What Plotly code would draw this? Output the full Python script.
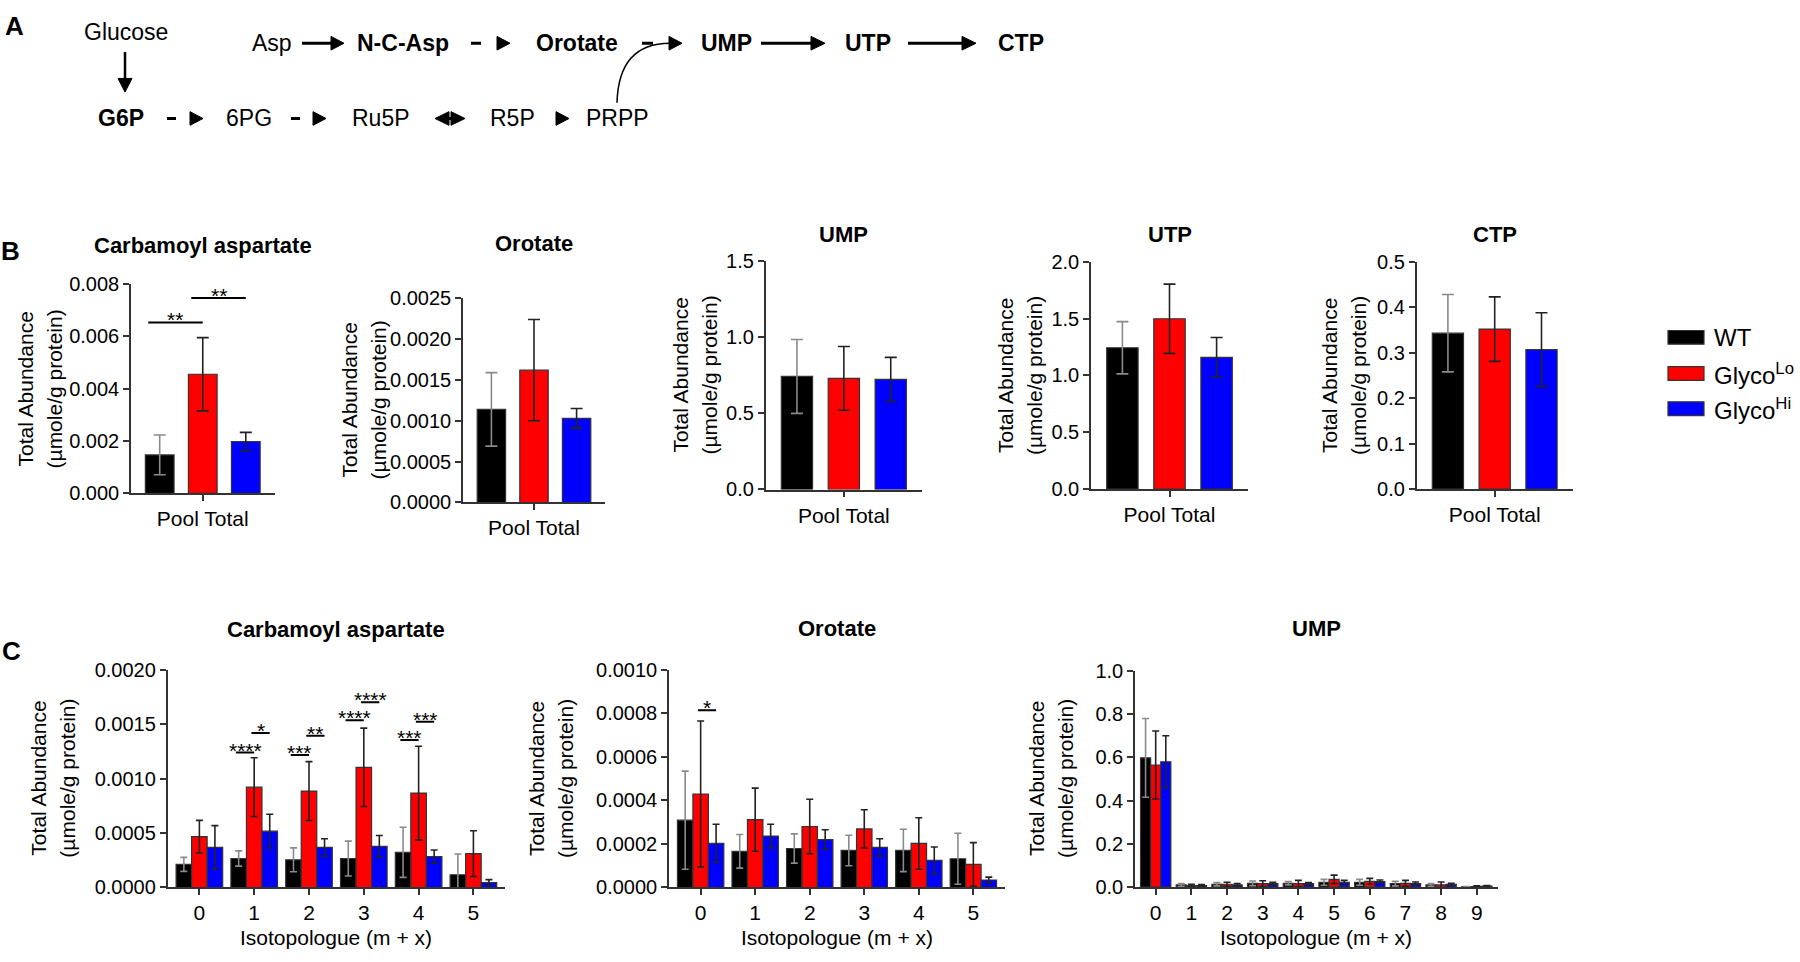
import plotly.graph_objects as go

W, H = 1800, 962
def px(x): return x / W
def py(y): return 1 - y / H

FONT = "Liberation Sans, Arial, sans-serif"

# ---------------- data ----------------
genotypes = ["WT", "GlycoLo", "GlycoHi"]
legend_labels = ["WT", "Glyco<sup>Lo</sup>", "Glyco<sup>Hi</sup>"]
bar_colors = ["#000000", "#ff0000", "#0000ff"]
err_colors = ["#8a8a8a", "#222222", "#222222"]

pool_label = ["Pool Total"]
iso6 = ["0", "1", "2", "3", "4", "5"]
iso10 = ["0", "1", "2", "3", "4", "5", "6", "7", "8", "9"]

# Panel B: pool totals [WT, GlycoLo, GlycoHi]
cpa_pool_mean = [0.00147, 0.00455, 0.00198]
cpa_pool_err = [0.00076, 0.00140, 0.00035]
oro_pool_mean = [0.00114, 0.00162, 0.00103]
oro_pool_err = [0.00045, 0.00062, 0.00012]
ump_pool_mean = [0.744, 0.731, 0.724]
ump_pool_err = [0.243, 0.210, 0.145]
utp_pool_mean = [1.244, 1.499, 1.160]
utp_pool_err = [0.230, 0.305, 0.174]
ctp_pool_mean = [0.343, 0.352, 0.307]
ctp_pool_err = [0.085, 0.071, 0.081]

# Panel C: isotopologues
cpa_iso_wt = [0.000212, 0.000266, 0.000254, 0.000266, 0.000323, 0.000117]
cpa_iso_wt_err = [0.000064, 0.000070, 0.000110, 0.000160, 0.000230, 0.000190]
cpa_iso_lo = [0.000466, 0.000921, 0.000885, 0.001103, 0.000867, 0.000311]
cpa_iso_lo_err = [0.000150, 0.000270, 0.000270, 0.000360, 0.000430, 0.000210]
cpa_iso_hi = [0.000368, 0.000517, 0.000368, 0.000377, 0.000284, 0.0000448]
cpa_iso_hi_err = [0.000200, 0.000155, 0.000080, 0.000100, 0.000060, 0.000027]

oro_iso_wt = [0.000309, 0.000166, 0.000179, 0.000170, 0.000170, 0.000132]
oro_iso_wt_err = [0.000225, 0.000077, 0.000067, 0.000070, 0.000097, 0.000117]
oro_iso_lo = [0.000429, 0.000311, 0.000280, 0.000269, 0.000202, 0.000106]
oro_iso_lo_err = [0.000335, 0.000145, 0.000125, 0.000088, 0.000118, 0.000100]
oro_iso_hi = [0.000203, 0.000236, 0.000220, 0.000184, 0.000124, 0.0000344]
oro_iso_hi_err = [0.000087, 0.000054, 0.000045, 0.000040, 0.000062, 0.000013]

ump_iso_wt = [0.597, 0.0105, 0.0135, 0.018, 0.018, 0.0226, 0.0226, 0.0165, 0.0105, 0.0015]
ump_iso_wt_err = [0.182, 0.006, 0.0075, 0.0106, 0.0075, 0.0134, 0.0134, 0.0105, 0.006, 0.0015]
ump_iso_lo = [0.564, 0.0075, 0.0135, 0.0165, 0.0165, 0.036, 0.027, 0.018, 0.0105, 0.003]
ump_iso_lo_err = [0.157, 0.006, 0.009, 0.0135, 0.015, 0.0196, 0.0136, 0.0136, 0.0135, 0.003]
ump_iso_hi = [0.579, 0.0075, 0.0105, 0.0165, 0.0165, 0.0226, 0.0256, 0.0165, 0.0135, 0.0045]
ump_iso_hi_err = [0.120, 0.0045, 0.006, 0.006, 0.0045, 0.009, 0.0075, 0.0075, 0.0045, 0.003]

# significance: (panel, category index, from group, to group, y value, label)
sig_marks = [
    (1, 0, 0, 1, 0.00653, "**"),
    (1, 0, 1, 2, 0.00746, "**"),
    (6, 1, 0, 1, 0.001238, "****"),
    (6, 1, 1, 2, 0.001417, "*"),
    (6, 2, 0, 1, 0.001217, "***"),
    (6, 2, 1, 2, 0.001393, "**"),
    (6, 3, 0, 1, 0.001534, "****"),
    (6, 3, 1, 2, 0.001700, "****"),
    (6, 4, 0, 1, 0.001354, "***"),
    (6, 4, 1, 2, 0.001522, "***"),
    (7, 0, 1, 2, 0.000813, "*"),
]

ylab1 = "Total Abundance"
ylab2 = "(µmole/g protein)"
xlab_iso = "Isotopologue (m + x)"

# ---------------- panel definitions ----------------
panels = [
    dict(title="Carbamoyl aspartate", cats=pool_label,
         means=cpa_pool_mean, errs=cpa_pool_err, ymax=0.008, dtick=0.002, fmt=".3f"),
    dict(title="Orotate", cats=pool_label,
         means=oro_pool_mean, errs=oro_pool_err, ymax=0.0025, dtick=0.0005, fmt=".4f"),
    dict(title="UMP", cats=pool_label,
         means=ump_pool_mean, errs=ump_pool_err, ymax=1.5, dtick=0.5, fmt=".1f"),
    dict(title="UTP", cats=pool_label,
         means=utp_pool_mean, errs=utp_pool_err, ymax=2.0, dtick=0.5, fmt=".1f"),
    dict(title="CTP", cats=pool_label,
         means=ctp_pool_mean, errs=ctp_pool_err, ymax=0.5, dtick=0.1, fmt=".1f"),
    dict(title="Carbamoyl aspartate", cats=iso6,
         means=[cpa_iso_wt, cpa_iso_lo, cpa_iso_hi],
         errs=[cpa_iso_wt_err, cpa_iso_lo_err, cpa_iso_hi_err],
         ymax=0.002, dtick=0.0005, fmt=".4f"),
    dict(title="Orotate", cats=iso6,
         means=[oro_iso_wt, oro_iso_lo, oro_iso_hi],
         errs=[oro_iso_wt_err, oro_iso_lo_err, oro_iso_hi_err],
         ymax=0.001, dtick=0.0002, fmt=".4f"),
    dict(title="UMP", cats=iso10,
         means=[ump_iso_wt, ump_iso_lo, ump_iso_hi],
         errs=[ump_iso_wt_err, ump_iso_lo_err, ump_iso_hi_err],
         ymax=1.0, dtick=0.2, fmt=".1f"),
]

# layout geometry (pixels): x_left, x_right, y_top, y_bottom, title_y, ylabel_x
geom = [
    (131, 274.5, 279.3, 493.7, 240, 40.3),
    (463, 605, 294, 503, 238, 363.5),
    (765.7, 922, 256.3, 489.7, 229, 694.5),
    (1091, 1248, 256.7, 489.3, 229, 1020),
    (1416.7, 1572.7, 256.7, 489.3, 229, 1344),
    (167.6, 505.2, 674, 897, 633, 52.6),
    (669, 1005, 674, 897, 632, 551),
    (1135, 1497.5, 675, 896.7, 632, 1051.5),
]

fig = go.Figure()
layout = dict(
    width=W, height=H, autosize=False,
    margin=dict(l=0, r=0, t=0, b=0),
    paper_bgcolor="white", plot_bgcolor="white",
    barmode="overlay", showlegend=False,
    font=dict(family=FONT, color="black", size=20),
)
annotations = []
shapes = []

AXC = "#333333"

for i, (pan, g) in enumerate(zip(panels, geom), start=1):
    xl, xr, yt, yb, title_y, ylx = g
    is_pool = len(pan["cats"]) == 1
    n = len(pan["cats"])
    xs = list(range(n))
    if is_pool:
        bw = 0.2
        offs = [-0.4, -0.1, 0.2]
        means = [[m] for m in pan["means"]]
        errs = [[e] for e in pan["errs"]]
        xrange = [-0.5, 0.5]
        cap = 6
    else:
        bw = 0.85 / 3
        offs = [-0.425, -0.425 + bw, -0.425 + 2 * bw]
        means = pan["means"]
        errs = pan["errs"]
        xrange = [-0.58, n - 1 + 0.58]
        cap = 3.5
    xa = "x" if i == 1 else f"x{i}"
    ya = "y" if i == 1 else f"y{i}"
    for gi in range(3):
        fig.add_trace(go.Bar(
            x=xs, y=means[gi], name=genotypes[gi],
            width=bw, offset=offs[gi],
            marker=dict(color=bar_colors[gi], line=dict(color="#333333", width=1.2)),
            error_y=dict(type="data", array=errs[gi], visible=True,
                         color=err_colors[gi], thickness=1.6, width=cap),
            xaxis=xa, yaxis=ya, showlegend=False, hoverinfo="skip",
        ))
    key = "" if i == 1 else str(i)
    layout["xaxis" + key] = dict(
        domain=[px(xl), px(xr)], range=xrange, anchor=ya,
        showline=True, linecolor=AXC, linewidth=1.6,
        ticks="outside", ticklen=6, tickwidth=1.6, tickcolor=AXC,
        tickvals=xs, ticktext=pan["cats"],
        tickfont=dict(family=FONT, size=21, color="black"),
        showgrid=False, zeroline=False, fixedrange=True,
    )
    layout["yaxis" + key] = dict(
        domain=[py(yb), py(yt)], range=[0, pan["ymax"]], anchor=xa,
        showline=True, linecolor=AXC, linewidth=1.6,
        ticks="outside", ticklen=6, tickwidth=1.6, tickcolor=AXC,
        tick0=0, dtick=pan["dtick"], tickformat=pan["fmt"],
        tickfont=dict(family=FONT, size=20, color="black"),
        showgrid=False, zeroline=False, fixedrange=True,
    )
    cx = (xl + xr) / 2
    cy = (yt + yb) / 2
    annotations.append(dict(
        text=pan["title"], x=px(cx), y=py(title_y), xref="paper", yref="paper",
        xanchor="center", yanchor="middle", showarrow=False,
        font=dict(family=FONT, size=22, color="black", weight="bold")))
    for dx, t in ((-14.5, ylab1), (14.5, ylab2)):
        annotations.append(dict(
            text=t, x=px(ylx + dx), y=py(cy), xref="paper", yref="paper",
            xanchor="center", yanchor="middle", showarrow=False, textangle=-90,
            font=dict(family=FONT, size=21, color="black")))
    if not is_pool:
        annotations.append(dict(
            text=xlab_iso, x=px(cx), y=py(948), xref="paper", yref="paper",
            xanchor="center", yanchor="middle", showarrow=False,
            font=dict(family=FONT, size=21, color="black")))

# significance bars
for (p, cat, a, b, yv, lab) in sig_marks:
    pan = panels[p - 1]
    if len(pan["cats"]) == 1:
        centers = [-0.3, 0.0, 0.3]
        ext = 0.08
    else:
        bw = 0.85 / 3
        centers = [-bw, 0.0, bw]
        ext = 0.05
    xa = "x" if p == 1 else f"x{p}"
    ya = "y" if p == 1 else f"y{p}"
    x0 = cat + centers[a] - ext
    x1 = cat + centers[b]
    shapes.append(dict(type="line", xref=xa, yref=ya, x0=x0, x1=x1, y0=yv, y1=yv,
                       line=dict(color="black", width=2)))
    annotations.append(dict(text=lab, x=(x0 + x1) / 2, y=yv, xref=xa, yref=ya,
                            xanchor="center", yanchor="bottom", yshift=-11,
                            showarrow=False, font=dict(family=FONT, size=21, color="black")))

# custom legend
leg_y = [334, 371, 407]
for gi in range(3):
    shapes.append(dict(type="rect", xref="paper", yref="paper",
                       x0=px(1668), x1=px(1704), y0=py(leg_y[gi] + 7), y1=py(leg_y[gi] - 7),
                       fillcolor=bar_colors[gi], line=dict(color="#333333", width=1.2)))
    annotations.append(dict(text=legend_labels[gi], x=px(1712), y=py(leg_y[gi]),
                            xref="paper", yref="paper", xanchor="left", yanchor="middle",
                            showarrow=False, font=dict(family=FONT, size=24, color="black")))

# panel letters
for lab, (lx, ly) in {"A": (14, 15), "B": (10, 246), "C": (11, 655)}.items():
    annotations.append(dict(text=lab, x=px(lx), y=py(ly), xref="paper", yref="paper",
                            xanchor="center", yanchor="middle", showarrow=False,
                            font=dict(family=FONT, size=26, color="black", weight="bold")))

# ---------------- pathway diagram (panel A) ----------------
path_nodes = [
    ("Glucose", 126, 21, False), ("G6P", 121, 110, True), ("6PG", 249, 110, False),
    ("Ru5P", 381, 110, False), ("R5P", 512, 110, False), ("PRPP", 617, 110, False),
    ("Asp", 271.5, 33, False), ("N-C-Asp", 403, 33, True), ("Orotate", 577, 33, True),
    ("UMP", 726, 33, True), ("UTP", 868, 33, True), ("CTP", 1021, 33, True),
]
for (t, x, y, bold) in path_nodes:
    annotations.append(dict(text=t, x=px(x), y=py(y), xref="paper", yref="paper",
                            xanchor="center", yanchor="middle", showarrow=False,
                            font=dict(family=FONT, size=23, color="black",
                                      weight="bold" if bold else "normal")))

def hseg(x0, x1, y, w=3):
    shapes.append(dict(type="line", xref="paper", yref="paper",
                       x0=px(x0), x1=px(x1), y0=py(y), y1=py(y),
                       line=dict(color="black", width=w)))

def hhead(xb, xt, y, hw=7):
    path = f"M {px(xb)},{py(y - hw)} L {px(xt)},{py(y)} L {px(xb)},{py(y + hw)} Z"
    shapes.append(dict(type="path", xref="paper", yref="paper", path=path,
                       fillcolor="black", line=dict(color="black", width=1)))

# top row
hseg(302, 333, 33); hhead(331, 344, 33)
hseg(471, 481, 33); hhead(497, 510, 33)
hseg(642, 653, 33); hhead(669, 682, 33)
hseg(761, 813, 33); hhead(811, 825, 33)
hseg(908, 964, 33); hhead(962, 976, 33)
# bottom row
hseg(167, 176, 110); hhead(190, 203, 110)
hseg(291, 300, 110); hhead(313, 326, 110)
hhead(449, 435, 110); hhead(451, 465, 110); hseg(448, 452, 110)
hhead(556, 569, 110)
# glucose down arrow
shapes.append(dict(type="line", xref="paper", yref="paper",
                   x0=px(125), x1=px(125), y0=py(42), y1=py(71),
                   line=dict(color="black", width=2.5)))
shapes.append(dict(type="path", xref="paper", yref="paper",
                   path=f"M {px(118)},{py(69)} L {px(125)},{py(83)} L {px(132)},{py(69)} Z",
                   fillcolor="black", line=dict(color="black", width=1)))
# PRPP curve into Orotate -> UMP
shapes.append(dict(type="path", xref="paper", yref="paper",
                   path=f"M {px(617)},{py(94)} C {px(618)},{py(55)} {px(635)},{py(33)} {px(670)},{py(33)}",
                   line=dict(color="black", width=1.5)))

layout["annotations"] = annotations
layout["shapes"] = shapes
fig.update_layout(**layout)

fig.write_html("out.html", config={"displayModeBar": False},
               post_script="document.body.style.margin='0';")
